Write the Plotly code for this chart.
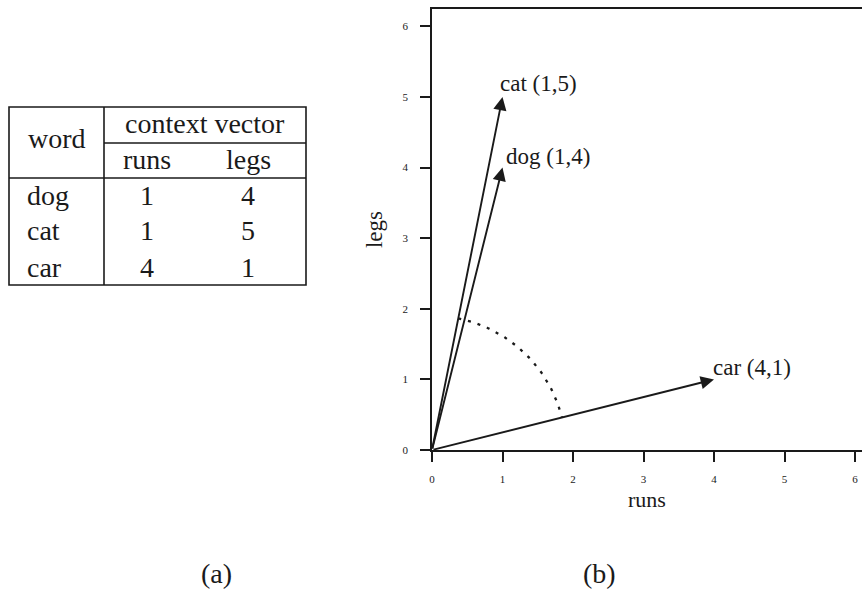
import math
import plotly.graph_objects as go

# ---- data ----
words = ["dog", "cat", "car"]
runs = [1, 1, 4]
legs = [4, 5, 1]
table_header = "context vector"
col_names = ["runs", "legs"]
row_header = "word"
x_ticks = [0, 1, 2, 3, 4, 5, 6]
y_ticks = [0, 1, 2, 3, 4, 5, 6]
panel_labels = ["(a)", "(b)"]

W, H = 862, 592
FONT = "Liberation Serif"
INK = "#1a1a1a"

def px(x):
    return x / W

def py(y):
    return 1 - y / H

fig = go.Figure()

# main plot area placement (pixels)
L, R, T, B = 432, 862, 9, 450
xr = [0, (R - L) / 70.5]
yr = [0, (B - T) / 70.6]

fig.add_trace(go.Scatter(x=[0], y=[0], mode="markers", marker=dict(opacity=0), showlegend=False, hoverinfo="skip"))

# dotted arc between cat and car vectors
ang_cat = math.atan2(legs[1], runs[1])
ang_car = math.atan2(legs[2], runs[2])
rad = 1.9
n = 60
arc_x = [rad * math.cos(ang_cat + (ang_car - ang_cat) * i / n) for i in range(n + 1)]
arc_y = [rad * math.sin(ang_cat + (ang_car - ang_cat) * i / n) for i in range(n + 1)]
fig.add_trace(go.Scatter(x=arc_x, y=arc_y, mode="lines",
                         line=dict(color=INK, width=2.3, dash="3px,7px"),
                         showlegend=False, hoverinfo="skip"))

annotations = []
# vectors
label_shift = {"cat": (-5, -1), "dog": (1, -3), "car": (-3, -3)}
for w, r, l in zip(words, runs, legs):
    annotations.append(dict(x=r, y=l, ax=0, ay=0, xref="x", yref="y", axref="x", ayref="y",
                            showarrow=True, arrowhead=2, arrowsize=1.4, arrowwidth=1.9,
                            arrowcolor=INK, text="", standoff=0))
    dx, dy = label_shift[w]
    annotations.append(dict(x=r, y=l, xref="x", yref="y", text=f"{w} ({r},{l})",
                            showarrow=False, xanchor="left", yanchor="bottom",
                            xshift=dx, yshift=dy,
                            font=dict(family=FONT, size=23, color=INK)))

# table text
tfont = dict(family=FONT, size=28, color=INK)
annotations.append(dict(x=px(57), y=py(138), xref="paper", yref="paper", text=row_header,
                        showarrow=False, xanchor="center", yanchor="middle", font=tfont))
annotations.append(dict(x=px(205), y=py(123), xref="paper", yref="paper", text=table_header,
                        showarrow=False, xanchor="center", yanchor="middle", font=tfont))
col_x = [147, 248]
for cx, cn in zip(col_x, col_names):
    annotations.append(dict(x=px(cx), y=py(159), xref="paper", yref="paper", text=cn,
                            showarrow=False, xanchor="center", yanchor="middle", font=tfont))
row_y = [195, 231, 267]
for ry, w, r, l in zip(row_y, words, runs, legs):
    annotations.append(dict(x=px(25), y=py(ry), xref="paper", yref="paper", text=w,
                            showarrow=False, xanchor="left", yanchor="middle", font=tfont))
    for cx, v in zip(col_x, (r, l)):
        annotations.append(dict(x=px(cx), y=py(ry), xref="paper", yref="paper", text=str(v),
                                showarrow=False, xanchor="center", yanchor="middle", font=tfont))

# panel labels
lfont = dict(family=FONT, size=28, color=INK)
for lx, lab in zip([216, 599], panel_labels):
    annotations.append(dict(x=px(lx), y=py(573), xref="paper", yref="paper", text=lab,
                            showarrow=False, xanchor="center", yanchor="middle", font=lfont))

# table lines
lw = 1.6
shapes = [
    dict(type="rect", xref="paper", yref="paper", x0=px(9), x1=px(306), y0=py(107), y1=py(285),
         line=dict(color=INK, width=lw)),
    dict(type="line", xref="paper", yref="paper", x0=px(104), x1=px(104), y0=py(107), y1=py(285),
         line=dict(color=INK, width=lw)),
    dict(type="line", xref="paper", yref="paper", x0=px(104), x1=px(306), y0=py(143), y1=py(143),
         line=dict(color=INK, width=lw)),
    dict(type="line", xref="paper", yref="paper", x0=px(9), x1=px(306), y0=py(178), y1=py(178),
         line=dict(color=INK, width=lw)),
]

fig.update_layout(
    width=W, height=H,
    margin=dict(l=0, r=0, t=0, b=0, autoexpand=False),
    paper_bgcolor="white", plot_bgcolor="white",
    showlegend=False,
    annotations=annotations,
    shapes=shapes,
    xaxis=dict(domain=[L / W, R / W], range=xr, tickvals=x_ticks, ticktext=[str(t) for t in x_ticks],
               showgrid=False, zeroline=False, showline=True, linecolor=INK, linewidth=1.5,
               mirror=True, ticks="outside", ticklen=10, tickwidth=1.5, tickcolor=INK,
               ticklabelstandoff=8, automargin=False,
               tickfont=dict(family=FONT, size=11, color=INK),
               title=dict(text="runs", font=dict(family=FONT, size=22, color=INK), standoff=8)),
    yaxis=dict(domain=[1 - B / H, 1 - T / H], range=yr, tickvals=y_ticks, ticktext=[str(t) for t in y_ticks],
               showgrid=False, zeroline=False, showline=True, linecolor=INK, linewidth=1.5,
               ticks="outside", ticklen=10, tickwidth=1.5, tickcolor=INK,
               ticklabelstandoff=10, automargin=False,
               tickfont=dict(family=FONT, size=11, color=INK),
               title=dict(text="legs", font=dict(family=FONT, size=23, color=INK), standoff=13)),
)

fig.write_html("out.html", config={"displayModeBar": False},
               post_script="document.body.style.margin='0';document.body.style.overflow='hidden';")
